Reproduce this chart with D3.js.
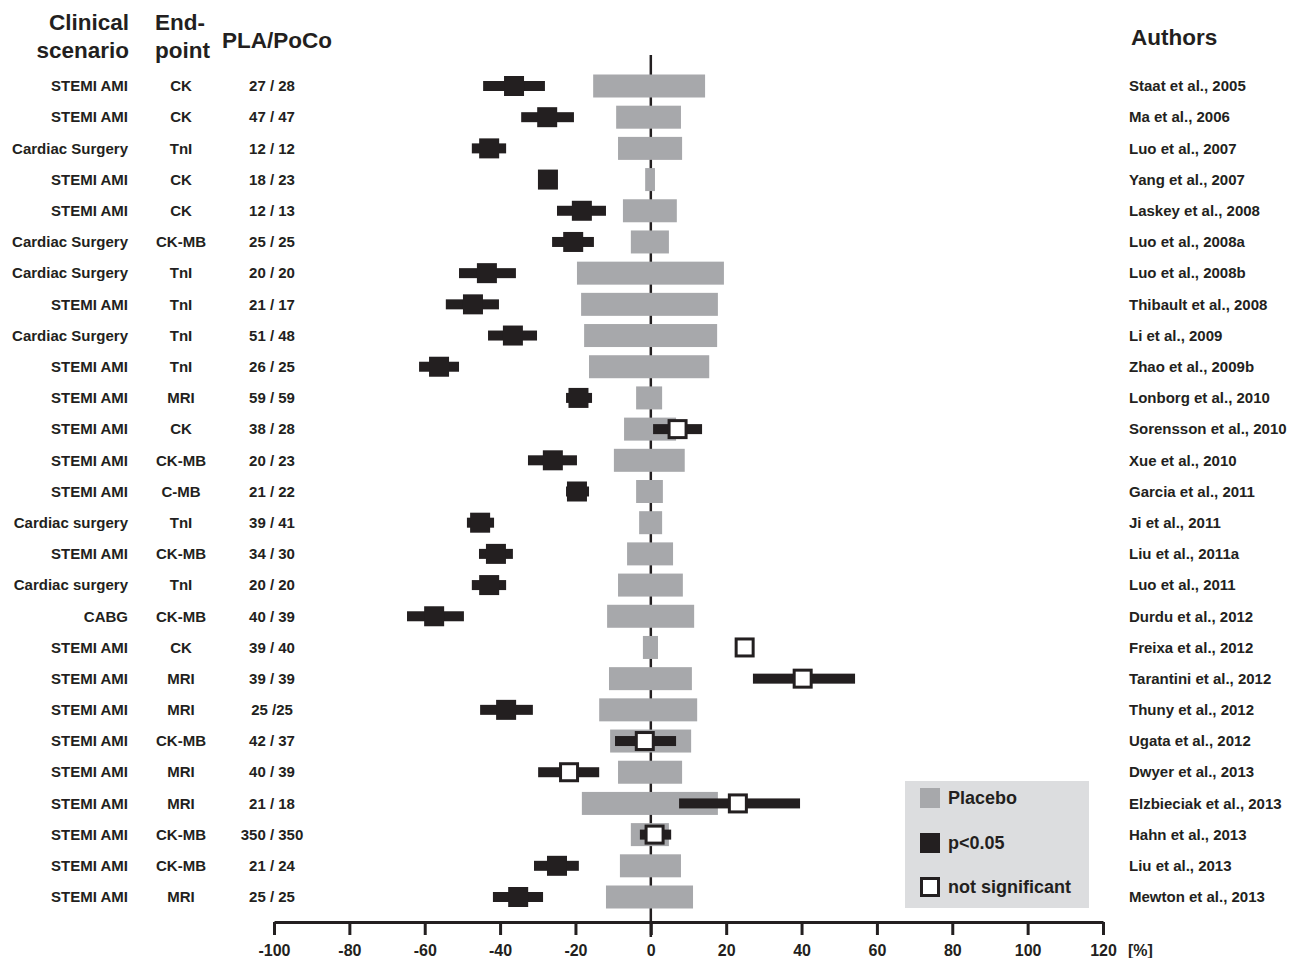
<!DOCTYPE html>
<html>
<head>
<meta charset="utf-8">
<script src="https://cdn.jsdelivr.net/npm/d3@7"></script>
<style>
  body { margin: 0; background: #fff; }
  text { font-family: "Liberation Sans", Arial, sans-serif; font-weight: bold; fill: #231f20; }
</style>
</head>
<body>
<div id="chart"></div>
<script>
// study rows, top to bottom
let scenario = ["STEMI AMI","STEMI AMI","Cardiac Surgery","STEMI AMI","STEMI AMI","Cardiac Surgery","Cardiac Surgery","STEMI AMI","Cardiac Surgery","STEMI AMI",
  "STEMI AMI","STEMI AMI","STEMI AMI","STEMI AMI","Cardiac surgery","STEMI AMI","Cardiac surgery","CABG","STEMI AMI","STEMI AMI",
  "STEMI AMI","STEMI AMI","STEMI AMI","STEMI AMI","STEMI AMI","STEMI AMI","STEMI AMI"];
let endpoint = ["CK","CK","TnI","CK","CK","CK-MB","TnI","TnI","TnI","TnI",
  "MRI","CK","CK-MB","C-MB","TnI","CK-MB","TnI","CK-MB","CK","MRI",
  "MRI","CK-MB","MRI","MRI","CK-MB","CK-MB","MRI"];
let counts = ["27 / 28","47 / 47","12 / 12","18 / 23","12 / 13","25 / 25","20 / 20","21 / 17","51 / 48","26 / 25",
  "59 / 59","38 / 28","20 / 23","21 / 22","39 / 41","34 / 30","20 / 20","40 / 39","39 / 40","39 / 39",
  "25 /25","42 / 37","40 / 39","21 / 18","350 / 350","21 / 24","25 / 25"];
let authors = ["Staat et al., 2005","Ma et al., 2006","Luo et al., 2007","Yang et al., 2007","Laskey et al., 2008","Luo et al., 2008a","Luo et al., 2008b","Thibault et al., 2008","Li et al., 2009","Zhao et al., 2009b",
  "Lonborg et al., 2010","Sorensson et al., 2010","Xue et al., 2010","Garcia et al., 2011","Ji et al., 2011","Liu et al., 2011a","Luo et al., 2011","Durdu et al., 2012","Freixa et al., 2012","Tarantini et al., 2012",
  "Thuny et al., 2012","Ugata et al., 2012","Dwyer et al., 2013","Elzbieciak et al., 2013","Hahn et al., 2013","Liu et al., 2013","Mewton et al., 2013"];

// placebo range (%)
let placeboLo = [-15.3,-9.2,-8.7,-1.5,-7.4,-5.3,-19.6,-18.5,-17.7,-16.4,
  -3.9,-7.1,-9.8,-3.9,-3.1,-6.3,-8.7,-11.6,-2.1,-11.1,
  -13.7,-10.8,-8.7,-18.3,-5.3,-8.2,-11.9];
let placeboHi = [14.4,8.0,8.3,1.1,6.9,4.8,19.4,17.8,17.6,15.5,
  3.0,6.7,9.0,3.2,3.0,5.9,8.5,11.5,1.9,10.9,
  12.3,10.7,8.3,17.8,4.8,8.0,11.2];

// postconditioning effect (%) and its range
let effect = [-36.3,-27.5,-42.9,-27.3,-18.3,-20.6,-43.5,-47.2,-36.6,-56.2,
  -19.2,7.1,-26.0,-19.6,-45.3,-41.1,-42.9,-57.5,24.9,40.3,
  -38.4,-1.6,-21.7,23.1,1.0,-24.9,-35.2];
let effectLo = [-44.5,-34.4,-47.5,null,-24.9,-26.2,-50.9,-54.4,-43.2,-61.5,
  -22.5,0.6,-32.6,-22.5,-48.8,-45.6,-47.5,-64.7,null,27.1,
  -45.3,-9.5,-29.9,7.5,-2.9,-31.0,-41.9];
let effectHi = [-28.1,-20.4,-38.4,null,-11.9,-15.1,-35.8,-40.3,-30.2,-50.9,
  -15.6,13.6,-19.6,-16.4,-41.6,-36.6,-38.4,-49.6,null,54.2,
  -31.3,6.7,-13.7,39.6,5.4,-19.1,-28.6];
let significant = [1,1,1,1,1,1,1,1,1,1, 1,0,1,1,1,1,1,1,0,0, 1,0,0,0,0,1,1];

let xTicks = [-100,-80,-60,-40,-20,0,20,40,60,80,100,120];
let legendLabels = ["Placebo","p<0.05","not significant"];

let W = 1289, H = 958;
let dark = "#231f20", gray = "#a7a8ab";

let svg = d3.select("#chart").append("svg").attr("width", W).attr("height", H);

let x = d3.scaleLinear().domain([-100, 120]).range([274, 1103]);
let rows = d3.range(authors.length);
let y = d3.scaleLinear().domain([0, authors.length - 1]).range([86, 897]);

// headers
let head = svg.append("g").style("font-size", "22.5px");
head.append("text").attr("x", 129).attr("y", 30).attr("text-anchor", "end").text("Clinical");
head.append("text").attr("x", 129).attr("y", 58).attr("text-anchor", "end").text("scenario");
head.append("text").attr("x", 155).attr("y", 30).text("End-");
head.append("text").attr("x", 155).attr("y", 58).text("point");
head.append("text").attr("x", 222).attr("y", 48).text("PLA/PoCo");
head.append("text").attr("x", 1131).attr("y", 45).text("Authors");

// row labels
let lab = svg.append("g").style("font-size", "15px");
lab.selectAll("text.sc").data(rows).enter().append("text").attr("class", "sc")
  .attr("x", 128).attr("y", d => y(d)).attr("dy", "0.35em").attr("text-anchor", "end")
  .text(d => scenario[d]);
lab.selectAll("text.ep").data(rows).enter().append("text").attr("class", "ep")
  .attr("x", 181).attr("y", d => y(d)).attr("dy", "0.35em").attr("text-anchor", "middle")
  .text(d => endpoint[d]);
lab.selectAll("text.ct").data(rows).enter().append("text").attr("class", "ct")
  .attr("x", 272).attr("y", d => y(d)).attr("dy", "0.35em").attr("text-anchor", "middle")
  .text(d => counts[d]);
lab.selectAll("text.au").data(rows).enter().append("text").attr("class", "au")
  .attr("x", 1129).attr("y", d => y(d)).attr("dy", "0.35em")
  .text(d => authors[d]);

// zero line
svg.append("line")
  .attr("x1", x(0)).attr("x2", x(0)).attr("y1", 55).attr("y2", 937)
  .attr("stroke", dark).attr("stroke-width", 2.5);

// placebo bars
svg.selectAll("rect.pla").data(rows).enter().append("rect").attr("class", "pla")
  .attr("x", d => x(placeboLo[d]))
  .attr("width", d => x(placeboHi[d]) - x(placeboLo[d]))
  .attr("y", d => y(d) - 11.5).attr("height", 23)
  .attr("fill", gray);

// postconditioning whiskers + boxes
let withCi = rows.filter(d => effectLo[d] !== null);
svg.selectAll("rect.ci").data(withCi).enter().append("rect").attr("class", "ci")
  .attr("x", d => x(effectLo[d]))
  .attr("width", d => x(effectHi[d]) - x(effectLo[d]))
  .attr("y", d => y(d) - 5).attr("height", 10)
  .attr("fill", dark);

svg.selectAll("rect.pt").data(rows).enter().append("rect").attr("class", "pt")
  .attr("x", d => x(effect[d]) - (significant[d] ? 10 : 8.5))
  .attr("y", d => y(d) - (significant[d] ? 10 : 8.5))
  .attr("width", d => significant[d] ? 20 : 17)
  .attr("height", d => significant[d] ? 20 : 17)
  .attr("fill", d => significant[d] ? dark : "#fff")
  .attr("stroke", d => significant[d] ? "none" : dark)
  .attr("stroke-width", 3);

// x axis
let axis = svg.append("g").attr("transform", "translate(0,922)")
  .call(d3.axisBottom(x).tickValues(xTicks).tickSize(13).tickSizeOuter(0).tickPadding(10)
    .tickFormat(d => String(d)));
axis.select(".domain").attr("stroke", dark).attr("stroke-width", 3);
axis.selectAll(".tick line").attr("stroke", dark).attr("stroke-width", 3);
axis.selectAll(".tick text").style("font-size", "16px").attr("fill", dark)
  .style("font-family", "'Liberation Sans', Arial, sans-serif").style("font-weight", "bold");
svg.append("text").attr("x", 1128).attr("y", 956).style("font-size", "16px").text("[%]");

// legend
let leg = svg.append("g");
leg.append("rect").attr("x", 905).attr("y", 781).attr("width", 184).attr("height", 127).attr("fill", "#dcdddf");
let legY = [798, 843, 887];
leg.selectAll("rect.sw").data(legendLabels).enter().append("rect").attr("class", "sw")
  .attr("x", (d, i) => i === 2 ? 921.5 : 920)
  .attr("y", (d, i) => legY[i] - (i === 2 ? 8.5 : 10))
  .attr("width", (d, i) => i === 2 ? 17 : 20)
  .attr("height", (d, i) => i === 2 ? 17 : 20)
  .attr("fill", (d, i) => [gray, dark, "#fff"][i])
  .attr("stroke", (d, i) => i === 2 ? dark : "none")
  .attr("stroke-width", 3);
leg.selectAll("text").data(legendLabels).enter().append("text")
  .attr("x", 948).attr("y", (d, i) => legY[i]).attr("dy", "0.35em")
  .style("font-size", "18px").text(d => d);
</script>
</body>
</html>
